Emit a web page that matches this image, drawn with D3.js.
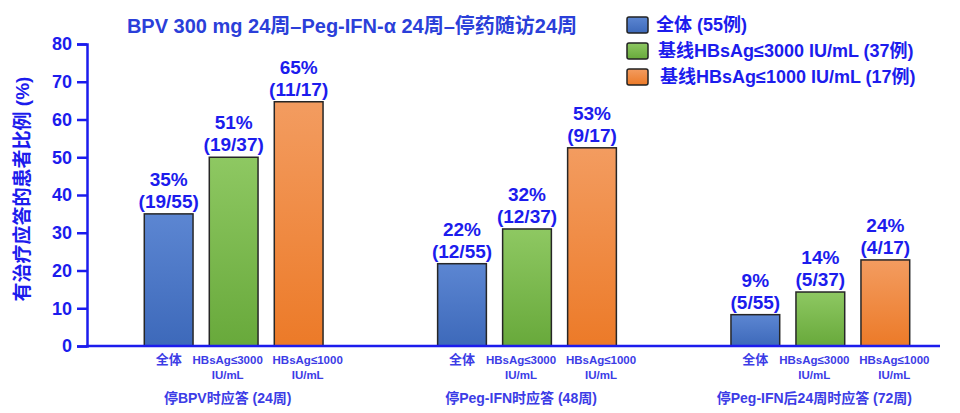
<!DOCTYPE html>
<html><head><meta charset="utf-8">
<script src="https://cdn.jsdelivr.net/npm/d3@7"></script>
<style>body{margin:0;background:#fff}svg{display:block}</style>
</head><body>
<svg id="c" width="960" height="413"></svg>
<script>
const categories = ["停BPV时应答 (24周)", "停Peg-IFN时应答 (48周)", "停Peg-IFN后24周时应答 (72周)"];
const seriesNames = ["全体 (55例)", "基线HBsAg≤3000 IU/mL (37例)", "基线HBsAg≤1000 IU/mL (17例)"];
const subLabels = [["全体"], ["HBsAg≤3000", "IU/mL"], ["HBsAg≤1000", "IU/mL"]];
const valuesAll = [35, 21.8, 8.3];
const values3000 = [50, 31, 14.3];
const values1000 = [64.7, 52.5, 22.8];
const pctAll = ["35%", "22%", "9%"];
const pct3000 = ["51%", "32%", "14%"];
const pct1000 = ["65%", "53%", "24%"];
const fracAll = ["(19/55)", "(12/55)", "(5/55)"];
const frac3000 = ["(19/37)", "(12/37)", "(5/37)"];
const frac1000 = ["(11/17)", "(9/17)", "(4/17)"];
const yTicks = [0, 10, 20, 30, 40, 50, 60, 70, 80];
const title = "BPV 300 mg 24周–Peg-IFN-α 24周–停药随访24周";
const yTitle = "有治疗应答的患者比例 (%)";

const seriesVals = [valuesAll, values3000, values1000];
const seriesPct = [pctAll, pct3000, pct1000];
const seriesFrac = [fracAll, frac3000, frac1000];
const keys = ["s0", "s1", "s2"];
const subShift = [0, -6, 9];

const FONT = "'Liberation Sans', Arial, 'Noto Sans CJK SC', sans-serif";
const BLUE = "#1c1ced";
const svg = d3.select("#c");

const defs = svg.append("defs");
const grads = [["#5c86d2", "#3d69ba"], ["#8ec862", "#68a93b"], ["#f39c60", "#ec7a28"]];
grads.forEach((g, i) => {
  const lg = defs.append("linearGradient").attr("id", "g" + i).attr("x1", 0).attr("y1", 0).attr("x2", 0).attr("y2", 1);
  lg.append("stop").attr("offset", "0%").attr("stop-color", g[0]);
  lg.append("stop").attr("offset", "100%").attr("stop-color", g[1]);
});

const y = d3.scaleLinear().domain([0, 80]).range([346, 44]);
const x0 = d3.scaleBand().domain(categories).range([87, 967]).padding(0);
const x1 = d3.scaleBand().domain(keys).range([-97.5, 97.5]).paddingInner(0.25).paddingOuter(0.125);

// title
svg.append("text").attr("x", 352).attr("y", 33).attr("text-anchor", "middle").attr("font-family", FONT).attr("font-weight", "bold")
  .attr("font-size", 20).attr("fill", "#2b3fd9").text(title);

// y axis
const yAxis = svg.append("g").attr("transform", "translate(87,0)")
  .call(d3.axisLeft(y).tickValues(yTicks).tickSize(10).tickSizeOuter(10).tickPadding(5));
yAxis.select(".domain").attr("stroke", BLUE).attr("stroke-width", 2.5);
yAxis.selectAll(".tick line").attr("stroke", BLUE).attr("stroke-width", 2.5);
yAxis.selectAll(".tick text").attr("fill", BLUE).attr("font-family", FONT).attr("font-weight", "bold").attr("font-size", 18);

svg.append("text").attr("transform", "translate(29,189) rotate(-90)").attr("text-anchor", "middle")
  .attr("font-family", FONT).attr("font-weight", 600).attr("font-size", 19).attr("fill", BLUE).text(yTitle);

// bars
const groups = svg.append("g").selectAll("g").data(categories).join("g")
  .attr("transform", d => `translate(${x0(d) + x0.bandwidth() / 2},0)`);

groups.each(function(cat, ci) {
  const g = d3.select(this);
  keys.forEach((k, si) => {
    const v = seriesVals[si][ci];
    const bx = x1(k);
    g.append("rect").attr("x", bx).attr("y", y(v)).attr("width", x1.bandwidth()).attr("height", y(0) - y(v))
      .attr("fill", `url(#g${si})`).attr("stroke", "#262626").attr("stroke-width", 1.5);
    const cx = bx + x1.bandwidth() / 2;
    g.append("text").attr("x", cx).attr("y", y(v) - 6).attr("text-anchor", "middle")
      .attr("font-family", FONT).attr("font-weight", "bold").attr("font-size", 19).attr("fill", BLUE)
      .text(seriesFrac[si][ci]);
    g.append("text").attr("x", cx).attr("y", y(v) - 28).attr("text-anchor", "middle")
      .attr("font-family", FONT).attr("font-weight", "bold").attr("font-size", 19).attr("fill", BLUE)
      .text(seriesPct[si][ci]);
    subLabels[si].forEach((t, li) => {
      g.append("text").attr("x", cx + subShift[si]).attr("y", 364 + li * 15).attr("text-anchor", "middle")
        .attr("font-family", FONT).attr("font-weight", "bold").attr("font-size", si === 0 ? 13 : 11.5)
        .attr("fill", "#3c3ce6").text(t);
    });
  });
  g.append("text").attr("x", -6).attr("y", 403).attr("text-anchor", "middle")
    .attr("font-family", FONT).attr("font-weight", "bold").attr("font-size", 14).attr("fill", "#3c3ce6").text(cat);
});

// x axis line
svg.append("line").attr("x1", 86).attr("x2", 940).attr("y1", y(0)).attr("y2", y(0))
  .attr("stroke", BLUE).attr("stroke-width", 2.5);

// legend
const leg = svg.append("g");
seriesNames.forEach((s, i) => {
  const ly = 25 + i * 26;
  leg.append("rect").attr("x", 627).attr("y", ly - 8).attr("width", 21).attr("height", 16).attr("rx", 2)
    .attr("fill", `url(#g${i})`).attr("stroke", "#222").attr("stroke-width", 1.5);
  leg.append("text").attr("x", 656 + i * 2).attr("y", ly + 6).attr("font-family", FONT).attr("font-weight", "bold")
    .attr("font-size", 18).attr("fill", BLUE).text(s);
});
</script>
</body></html>
